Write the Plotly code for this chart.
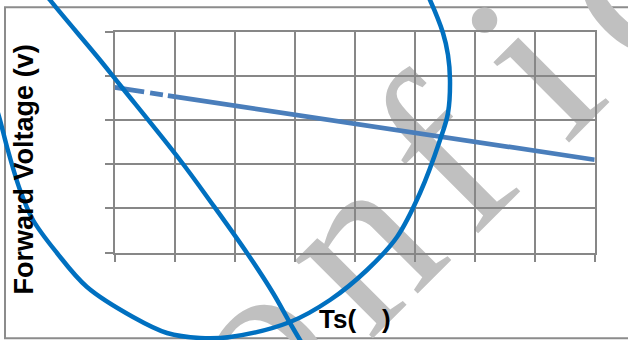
import plotly.graph_objects as go

W, H = 628, 340

# ---- chart data (x in grid units, y in grid units; no tick labels in source) ----
TS_DASH = [0, 1]
VF_DASH = [3.74, 3.53]
TS_SOLID = [1, 5, 8]
VF_SOLID = [3.53, 2.70, 2.10]
X_RANGE = [0, 8]
Y_RANGE = [0, 5]

X_TITLE = "Ts(\u2003)"
Y_TITLE = "Forward Voltage (v)"

# ---- hand-drawn blue ink overlay (figure pixel coords) ----
ELLIPSE_X = [-6, 0, 7, 20, 33, 57, 87, 133, 167, 200, 230, 290, 330, 367, 397, 420, 440, 448, 450, 448, 443, 430, 424]
ELLIPSE_Y = [100, 120, 147, 190, 220, 253, 287, 317, 333, 338, 337, 322, 300, 270, 237, 193, 140, 113, 80, 55, 33, 0, -12]
STROKE_X = [45, 50, 100, 120, 180, 213, 247, 273, 290, 300, 305]
STROKE_Y = [-7, 0, 60, 85, 160, 205, 253, 293, 323, 340, 348]

# ---- watermark letters (position along rotated baseline, px) ----
WM_LETTERS = ["C", "o", "n", "f", "i", "d", "e", "n", "t", "i", "a", "l"]
WM_U = [-229, -65, 79, 203, 330, 458, 595, 738, 861, 958, 1075, 1192]

GRID = "#878787"
LINE_C = "#4a7ebb"
INK = "#0070c0"
WM_C = "#c0c0c0"


def px(x):
    return x / W


def py(y):
    return 1 - y / H


fig = go.Figure()

fig.add_trace(go.Scatter(x=TS_DASH, y=VF_DASH, mode="lines",
                         line=dict(color=LINE_C, width=4.7, dash="30px,6px,13px,5px"),
                         hoverinfo="skip"))
fig.add_trace(go.Scatter(x=TS_SOLID, y=VF_SOLID, mode="lines",
                         line=dict(color=LINE_C, width=4.7), hoverinfo="skip"))

fig.add_trace(go.Scatter(x=ELLIPSE_X, y=ELLIPSE_Y, mode="lines", xaxis="x2", yaxis="y2",
                         line=dict(color=INK, width=4.5, shape="spline", smoothing=1.0),
                         hoverinfo="skip"))
fig.add_trace(go.Scatter(x=STROKE_X, y=STROKE_Y, mode="lines", xaxis="x2", yaxis="y2",
                         line=dict(color=INK, width=4.5, shape="spline", smoothing=1.0),
                         hoverinfo="skip"))

axis_common = dict(showgrid=True, gridcolor=GRID, gridwidth=1.5,
                   showline=True, linecolor=GRID, linewidth=1.5, mirror=True,
                   ticks="outside", ticklen=8, tickwidth=1.5, tickcolor=GRID,
                   showticklabels=False, zeroline=False, dtick=1, tick0=0,
                   fixedrange=True)

shapes = []
# outer frame
shapes.append(dict(type="rect", xref="paper", yref="paper",
                   x0=px(5), x1=1.02, y0=py(338.3), y1=py(7.3),
                   line=dict(color="#8c8c8c", width=2), layer="below"))

# watermark letters, rotated -45 deg, baseline x + y = 717
FS = 240
h = 111
r2 = 2 ** 0.5
for ch, u in zip(WM_LETTERS, WM_U):
    bx = (717 + r2 * u) / 2
    by = (717 - r2 * u) / 2
    cx = bx - h / r2
    cy = by - h / r2
    shapes.append(dict(type="line", xref="paper", yref="paper",
                       x0=px(cx - 5), y0=py(cy + 5), x1=px(cx + 5), y1=py(cy - 5),
                       line=dict(color="rgba(0,0,0,0)", width=0), layer="below",
                       label=dict(text=ch, textangle=-45, textposition="middle",
                                  xanchor="center", yanchor="middle", padding=0,
                                  font=dict(family="Liberation Serif", size=FS, color=WM_C))))

annotations = [
    dict(text=Y_TITLE, xref="paper", yref="paper", x=px(24), y=py(169.4),
         textangle=-90, showarrow=False, xanchor="center", yanchor="middle",
         font=dict(family="Liberation Sans", size=27, color="black", weight="bold")),
    dict(text=X_TITLE, xref="paper", yref="paper", x=px(355), y=py(319),
         showarrow=False, xanchor="center", yanchor="middle",
         font=dict(family="Liberation Sans", size=26, color="black", weight="bold")),
]

fig.update_layout(
    width=W, height=H,
    margin=dict(l=0, r=0, t=0, b=0, pad=0),
    paper_bgcolor="white", plot_bgcolor="rgba(0,0,0,0)",
    showlegend=False,
    xaxis=dict(domain=[px(114.5), px(594.7)], range=X_RANGE, anchor="y", **axis_common),
    yaxis=dict(domain=[py(252.5), py(31.7)], range=Y_RANGE, anchor="x", **axis_common),
    xaxis2=dict(domain=[0, 1], range=[0, W], visible=False, anchor="y2", fixedrange=True),
    yaxis2=dict(domain=[0, 1], range=[H, 0], visible=False, anchor="x2", fixedrange=True),
    shapes=shapes,
    annotations=annotations,
)

fig.write_html("out.html", config={"displayModeBar": False},
               post_script="document.body.style.margin='0px';document.body.style.overflow='hidden';")
